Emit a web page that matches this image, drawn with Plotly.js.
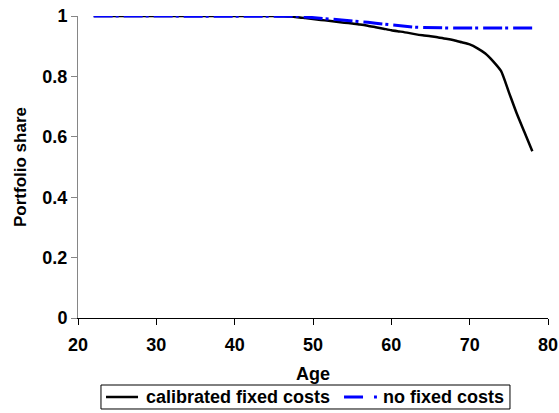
<!DOCTYPE html>
<html>
<head>
<meta charset="utf-8">
<script src="https://cdn.plot.ly/plotly-3.0.1.min.js"></script>
<style>html,body{margin:0;padding:0;background:#fff;}#chart{width:559px;height:413px;}</style>
</head>
<body>
<div id="chart"></div>
<script>
var ages = [];
for (var a = 22; a <= 78; a++) ages.push(a);

var calibratedFixedCosts = [
  1.000,1.000,1.000,1.000,1.000,1.000,1.000,1.000,1.000,1.000, // 22-31
  1.000,1.000,1.000,1.000,1.000,1.000,1.000,1.000,1.000,1.000, // 32-41
  1.000,1.000,1.000,1.000,0.999,0.998,0.996,0.993,0.990,0.987, // 42-51
  0.984,0.981,0.978,0.975,0.972,0.968,0.963,0.958,0.953,0.949, // 52-61
  0.945,0.940,0.936,0.933,0.929,0.925,0.920,0.913,0.906,0.893, // 62-71
  0.876,0.850,0.818,0.748,0.678,0.615,0.552                    // 72-78
];

var noFixedCosts = [
  1.000,1.000,1.000,1.000,1.000,1.000,1.000,1.000,1.000,1.000, // 22-31
  1.000,1.000,1.000,1.000,1.000,1.000,1.000,1.000,1.000,1.000, // 32-41
  1.000,1.000,1.000,1.000,1.000,1.000,0.999,0.997,0.995,0.993, // 42-51
  0.991,0.988,0.986,0.984,0.981,0.979,0.976,0.973,0.970,0.967, // 52-61
  0.965,0.963,0.962,0.961,0.961,0.961,0.960,0.960,0.960,0.960, // 62-71
  0.960,0.960,0.960,0.960,0.960,0.960,0.960                    // 72-78
];

var seriesNames = ["calibrated fixed costs", "no fixed costs"];
var seriesColors = ["#000000", "#0000ff"];
var xTicks = [20, 30, 40, 50, 60, 70, 80];
var yTicks = [0, 0.2, 0.4, 0.6, 0.8, 1];
var yTickLabels = ["0", "0.2", "0.4", "0.6", "0.8", "1"];

var fontFam = "Liberation Sans, Arial, sans-serif";
var FS = 18;
function b(s) { return "<b>" + s + "</b>"; }

var blueDash = "19px,3px,3px,5px";

var traces = [
  {x: ages, y: calibratedFixedCosts, name: seriesNames[0], type: "scatter", mode: "lines",
   line: {color: seriesColors[0], width: 2.5, shape: "spline", smoothing: 0.6}, cliponaxis: false},
  {x: ages, y: noFixedCosts, name: seriesNames[1], type: "scatter", mode: "lines",
   line: {color: seriesColors[1], width: 3, dash: blueDash}, cliponaxis: false}
];

// Legend drawn as layout decoration (paper coordinates below the plot)
var legY = -0.2616;
var shapes = [
  {type: "rect", xref: "paper", yref: "paper", x0: 0.0489, x1: 0.9191, y0: -0.3013, y1: -0.2219,
   line: {color: "#000", width: 1}, fillcolor: "#fff", layer: "above"},
  {type: "line", xref: "paper", yref: "paper", x0: 0.0596, x1: 0.1277, y0: legY, y1: legY,
   line: {color: seriesColors[0], width: 2.5}},
  {type: "line", xref: "paper", yref: "paper", x0: 0.566, x1: 0.636, y0: legY, y1: legY,
   line: {color: seriesColors[1], width: 3, dash: "19px,11px,3px,20px"}}
];
var annotations = [
  {xref: "paper", yref: "paper", x: 0.1400, y: legY, xanchor: "left", yanchor: "middle",
   text: b(seriesNames[0]), showarrow: false, font: {family: fontFam, size: FS, color: "#000"}},
  {xref: "paper", yref: "paper", x: 0.6440, y: legY, xanchor: "left", yanchor: "middle",
   text: b(seriesNames[1]), showarrow: false, font: {family: fontFam, size: FS, color: "#000"}}
];

var layout = {
  width: 559, height: 413,
  margin: {l: 78, r: 11, t: 16, b: 95},
  paper_bgcolor: "#ffffff", plot_bgcolor: "#ffffff",
  font: {family: fontFam, size: FS, color: "#000"},
  showlegend: false,
  shapes: shapes,
  annotations: annotations,
  xaxis: {range: [20, 80], tickvals: xTicks, ticktext: xTicks.map(function(v){return b(String(v));}),
          showgrid: false, zeroline: false, showline: true, linecolor: "#000", linewidth: 1,
          ticks: "outside", ticklen: 6, tickcolor: "#000", tickwidth: 1, ticklabelstandoff: 4,
          tickfont: {family: fontFam, size: FS, color: "#000"}, automargin: false,
          title: {text: b("Age"), font: {family: fontFam, size: FS, color: "#000"}, standoff: 13}},
  yaxis: {range: [0, 1], tickvals: yTicks, ticktext: yTickLabels.map(b),
          showgrid: false, zeroline: false, showline: true, linecolor: "#868686", linewidth: 1,
          ticks: "outside", ticklen: 6, tickcolor: "#868686", tickwidth: 1,
          tickfont: {family: fontFam, size: FS, color: "#000"}, automargin: false,
          title: {text: b("Portfolio share"), font: {family: fontFam, size: 17, color: "#000"}, standoff: 11}}
};

Plotly.newPlot("chart", traces, layout, {displayModeBar: false, staticPlot: true});
</script>
</body>
</html>
